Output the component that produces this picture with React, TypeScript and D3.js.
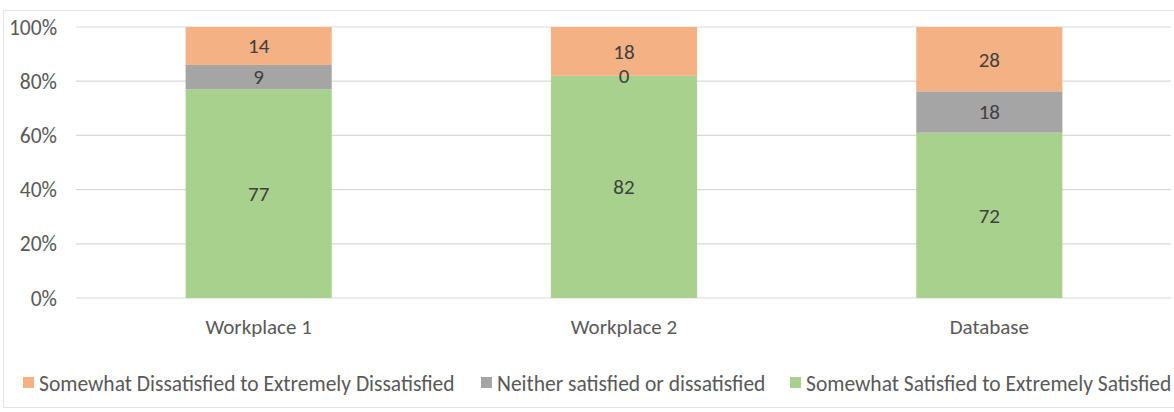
import React from "react";
import * as d3 from "d3";

// Survey responses per group (raw counts)
const categories = ["Workplace 1", "Workplace 2", "Database"];
const satisfied = [77, 82, 72];
const neutral = [9, 0, 18];
const dissatisfied = [14, 18, 28];

const seriesNames = [
  "Somewhat Dissatisfied to Extremely Dissatisfied",
  "Neither satisfied or dissatisfied",
  "Somewhat Satisfied to Extremely Satisfied",
];
const yTicks = [0, 0.2, 0.4, 0.6, 0.8, 1];

const W = 1174;
const H = 412;
const FONT = "Carlito, Lato, 'Open Sans', sans-serif";
const COLORS = {
  dissatisfied: "#F4B183",
  neutral: "#A5A5A5",
  satisfied: "#A9D18E",
};

export default function App() {
  const rows = categories.map((c, i) => ({
    category: c,
    satisfied: satisfied[i],
    neutral: neutral[i],
    dissatisfied: dissatisfied[i],
  }));
  const keys = ["satisfied", "neutral", "dissatisfied"] as const;
  const stack = d3
    .stack<any>()
    .keys(keys as any)
    .offset(d3.stackOffsetExpand);
  const layers = stack(rows);

  const x = d3
    .scaleBand<string>()
    .domain(categories)
    .range([76, 1172])
    .paddingInner(0.6)
    .paddingOuter(0.3);
  const y = d3.scaleLinear().domain([0, 1]).range([298, 27]);
  const pct = d3.format(".0%");

  const legendItems = [
    { key: "dissatisfied", x: 23, label: seriesNames[0] },
    { key: "neutral", x: 481, label: seriesNames[1] },
    { key: "satisfied", x: 790, label: seriesNames[2] },
  ];

  return (
    <svg
      width={W}
      height={H}
      style={{ position: "absolute", left: 0, top: 0, background: "#fff" }}
      fontFamily={FONT}
    >
      <rect x={3.5} y={10.5} width={W + 10} height={397} fill="#fff" stroke="#e4e4e4" />
      {yTicks.map((t) => (
        <g key={t}>
          <line x1={76} x2={1171} y1={y(t)} y2={y(t)} stroke="#d9d9d9" strokeWidth={1.2} />
          <text x={57} y={y(t)} dy="0.35em" textAnchor="end" fontSize={21.5} fill="#595959">
            {pct(t)}
          </text>
        </g>
      ))}
      {layers.map((layer) => (
        <g key={layer.key}>
          {layer.map((d, i) => {
            const key = layer.key as keyof typeof COLORS;
            const x0 = x(categories[i])!;
            const yTop = y(d[1]);
            const yBot = y(d[0]);
            return (
              <rect
                key={i}
                x={x0}
                y={yTop}
                width={x.bandwidth()}
                height={yBot - yTop}
                fill={COLORS[key]}
              />
            );
          })}
        </g>
      ))}
      {layers.map((layer) =>
        layer.map((d, i) => {
          const key = layer.key as keyof typeof COLORS;
          const val = (d.data as any)[key];
          return (
            <text
              key={layer.key + i}
              x={x(categories[i])! + x.bandwidth() / 2}
              y={(y(d[0]) + y(d[1])) / 2}
              dy="0.35em"
              textAnchor="middle"
              fontSize={21}
              fill="#404040"
            >
              {val}
            </text>
          );
        })
      )}
      {categories.map((c) => (
        <text
          key={c}
          x={x(c)! + x.bandwidth() / 2}
          y={327}
          dy="0.35em"
          textAnchor="middle"
          fontSize={21}
          fill="#595959"
        >
          {c}
        </text>
      ))}
      {legendItems.map((it) => (
        <g key={it.key}>
          <rect x={it.x} y={377} width={11} height={11} fill={COLORS[it.key as keyof typeof COLORS]} />
          <text x={it.x + 16} y={383} dy="0.35em" fontSize={21.5} fill="#595959">
            {it.label}
          </text>
        </g>
      ))}
    </svg>
  );
}
